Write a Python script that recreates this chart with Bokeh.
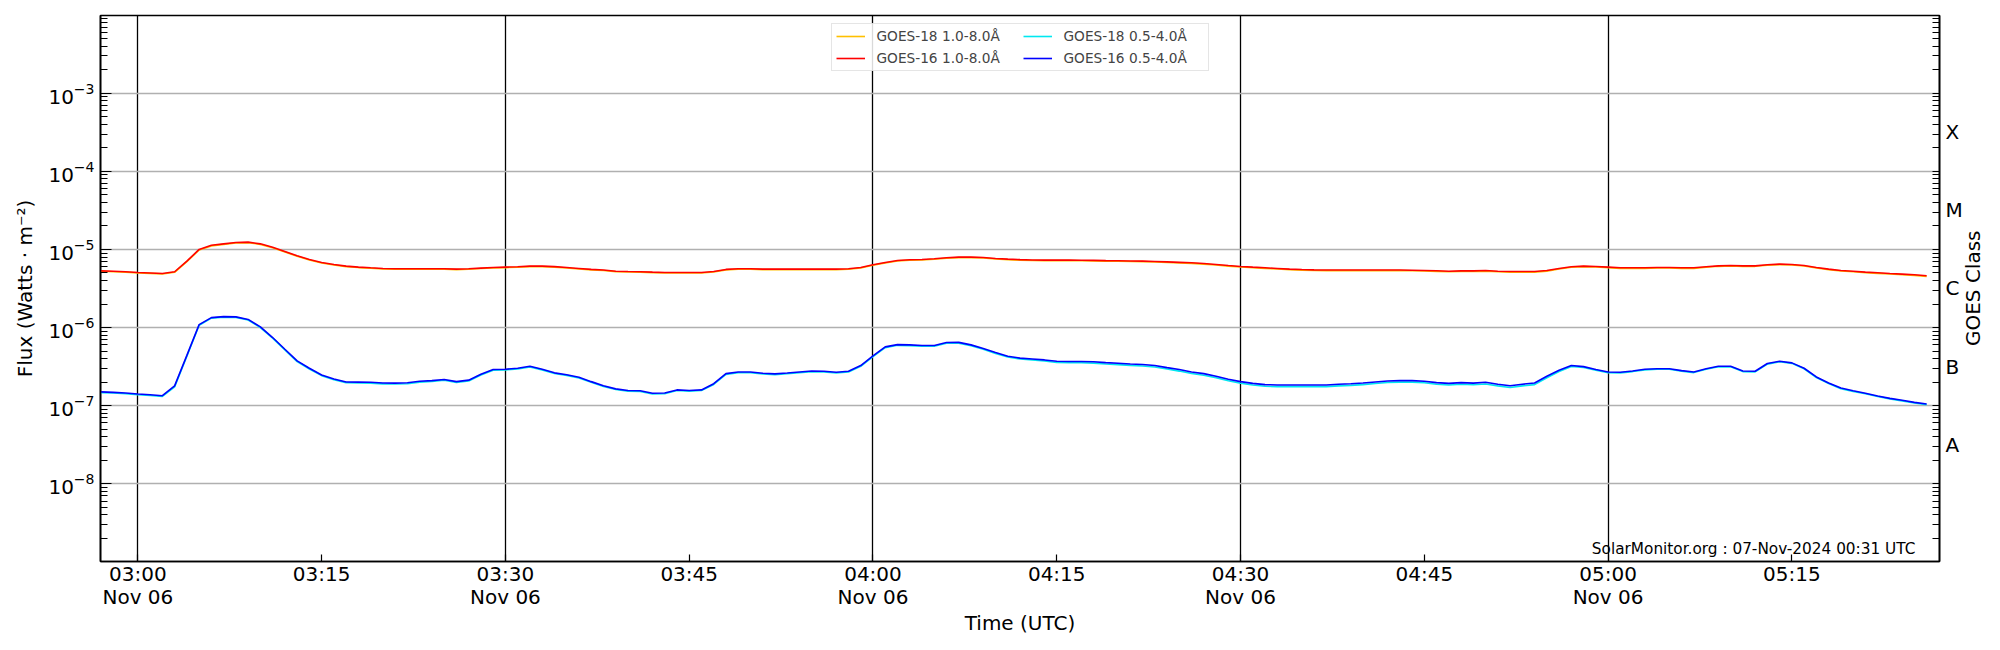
import math
import numpy as np
import pandas as pd
from bokeh.plotting import figure
from bokeh.models import (Range1d, FixedTicker, LogAxis, LinearAxis, CustomJSTickFormatter,
                          Legend, LegendItem, Label)
from bokeh.embed import file_html
from bokeh.resources import INLINE

FONT = "DejaVu Sans"

# ---------------- data ----------------
start_time = "2024-11-06 02:57"
n_points = 150  # one-minute cadence, 02:57 .. 05:26

# GOES-16 1.0-8.0 A, in units of 1e-6 W m^-2
goes16_long = [5.32, 5.26, 5.18, 5.07, 5.00, 4.92, 5.18, 7.08, 10.0, 11.3, 11.8, 12.3, 12.4,
               11.8, 10.7, 9.42, 8.29, 7.44, 6.81, 6.42, 6.11, 5.94, 5.82,
               5.71, 5.65, 5.65, 5.65, 5.65, 5.65, 5.60, 5.65, 5.77, 5.88,
               5.94, 6.00, 6.11, 6.11, 6.02, 5.88, 5.71, 5.55, 5.45, 5.27,
               5.22, 5.18, 5.12, 5.07, 5.07, 5.07, 5.07, 5.22, 5.55, 5.65,
               5.65, 5.60, 5.60, 5.60, 5.60, 5.60, 5.60, 5.60, 5.65, 5.88,
               6.36, 6.81, 7.23, 7.37, 7.44, 7.59, 7.82, 7.97, 7.97, 7.90,
               7.67, 7.52, 7.40, 7.33, 7.30, 7.30, 7.30, 7.28, 7.25, 7.20,
               7.16, 7.12, 7.09, 7.02, 6.93, 6.84, 6.75, 6.60, 6.42, 6.22,
               6.05, 5.93, 5.82, 5.71, 5.60, 5.53, 5.47, 5.45, 5.45, 5.45,
               5.45, 5.45, 5.45, 5.45, 5.42, 5.38, 5.33, 5.27, 5.32, 5.32,
               5.37, 5.27, 5.22, 5.22, 5.22, 5.37, 5.71, 6.00, 6.11, 6.05,
               5.94, 5.82, 5.82, 5.82, 5.88, 5.88, 5.82, 5.82, 6.00, 6.17,
               6.23, 6.17, 6.17, 6.36, 6.49, 6.42, 6.23, 5.88, 5.60, 5.37,
               5.27, 5.12, 5.02, 4.92, 4.83, 4.74, 4.60]

# GOES-18 1.0-8.0 A, in units of 1e-6 W m^-2
goes18_long = [5.25, 5.19, 5.11, 5.01, 4.94, 4.86, 5.10, 6.98, 9.85, 11.1, 11.6, 12.1, 12.2,
               11.6, 10.5, 9.28, 8.17, 7.33, 6.71, 6.33, 6.02, 5.86, 5.74,
               5.63, 5.57, 5.57, 5.57, 5.57, 5.57, 5.52, 5.57, 5.69, 5.80,
               5.86, 5.92, 6.03, 6.03, 5.94, 5.80, 5.63, 5.47, 5.37, 5.20,
               5.15, 5.11, 5.05, 5.00, 5.00, 5.00, 5.00, 5.15, 5.47, 5.57,
               5.57, 5.52, 5.52, 5.52, 5.52, 5.52, 5.52, 5.52, 5.57, 5.80,
               6.27, 6.71, 7.13, 7.27, 7.33, 7.48, 7.71, 7.86, 7.86, 7.79,
               7.56, 7.41, 7.29, 7.22, 7.19, 7.19, 7.19, 7.17, 7.14, 7.09,
               7.05, 7.01, 6.98, 6.91, 6.82, 6.73, 6.64, 6.49, 6.32, 6.12,
               5.95, 5.84, 5.73, 5.62, 5.51, 5.44, 5.38, 5.36, 5.36, 5.36,
               5.36, 5.36, 5.36, 5.36, 5.33, 5.29, 5.24, 5.18, 5.23, 5.23,
               5.28, 5.18, 5.13, 5.13, 5.13, 5.28, 5.62, 5.91, 6.02, 5.96,
               5.85, 5.73, 5.73, 5.73, 5.79, 5.79, 5.73, 5.73, 5.91, 6.08,
               6.14, 6.08, 6.08, 6.27, 6.40, 6.33, 6.14, 5.80, 5.52, 5.29,
               5.19, 5.04, 4.94, 4.84, 4.75, 4.66, 4.52]

# GOES-16 0.5-4.0 A, in units of 1e-7 W m^-2
goes16_short = [1.50, 1.48, 1.45, 1.41, 1.38, 1.34, 1.79, 4.40, 10.9, 13.4, 13.8, 13.7, 12.7,
                10.2, 7.45, 5.27, 3.74, 3.01, 2.47, 2.20, 2.01, 2.00, 1.99,
                1.95, 1.94, 1.96, 2.05, 2.09, 2.16, 2.03, 2.12, 2.52, 2.90,
                2.93, 3.01, 3.19, 2.93, 2.63, 2.49, 2.31, 2.03, 1.80, 1.64,
                1.56, 1.55, 1.44, 1.45, 1.59, 1.56, 1.59, 1.91, 2.57, 2.70,
                2.70, 2.60, 2.55, 2.62, 2.70, 2.78, 2.76, 2.68, 2.76, 3.26,
                4.33, 5.65, 6.05, 6.00, 5.88, 5.88, 6.43, 6.46, 6.00, 5.38,
                4.78, 4.29, 4.06, 3.96, 3.85, 3.70, 3.68, 3.68, 3.64, 3.56,
                3.49, 3.42, 3.36, 3.27, 3.07, 2.90, 2.70, 2.57, 2.38, 2.18,
                2.03, 1.93, 1.86, 1.84, 1.84, 1.84, 1.84, 1.84, 1.88, 1.91,
                1.95, 2.01, 2.07, 2.09, 2.09, 2.05, 1.97, 1.93, 1.97, 1.94,
                1.99, 1.88, 1.80, 1.88, 1.95, 2.38, 2.84, 3.26, 3.16, 2.90,
                2.70, 2.68, 2.78, 2.92, 2.97, 2.97, 2.81, 2.70, 2.97, 3.19,
                3.19, 2.78, 2.76, 3.46, 3.70, 3.53, 3.01, 2.33, 1.95, 1.68,
                1.55, 1.44, 1.33, 1.24, 1.17, 1.10, 1.05]

# GOES-18 0.5-4.0 A, in units of 1e-7 W m^-2
goes18_short = [1.47, 1.45, 1.42, 1.38, 1.35, 1.31, 1.74, 4.30, 10.7, 13.2, 13.6, 13.5, 12.5,
                10.0, 7.32, 5.17, 3.67, 2.95, 2.42, 2.15, 1.97, 1.95, 1.94,
                1.90, 1.89, 1.91, 2.00, 2.04, 2.11, 1.98, 2.07, 2.47, 2.84,
                2.87, 2.95, 3.13, 2.87, 2.58, 2.44, 2.26, 1.99, 1.76, 1.61,
                1.53, 1.52, 1.41, 1.42, 1.56, 1.53, 1.56, 1.87, 2.51, 2.64,
                2.64, 2.54, 2.49, 2.56, 2.64, 2.72, 2.70, 2.62, 2.70, 3.19,
                4.24, 5.53, 5.92, 5.87, 5.75, 5.75, 6.29, 6.32, 5.87, 5.26,
                4.67, 4.19, 3.96, 3.85, 3.73, 3.57, 3.54, 3.54, 3.50, 3.42,
                3.35, 3.28, 3.22, 3.13, 2.94, 2.77, 2.58, 2.45, 2.27, 2.08,
                1.94, 1.84, 1.77, 1.75, 1.75, 1.75, 1.75, 1.75, 1.79, 1.82,
                1.86, 1.92, 1.98, 2.00, 2.00, 1.96, 1.88, 1.84, 1.88, 1.85,
                1.89, 1.79, 1.71, 1.79, 1.86, 2.28, 2.74, 3.17, 3.08, 2.84,
                2.65, 2.63, 2.73, 2.87, 2.92, 2.92, 2.76, 2.65, 2.92, 3.14,
                3.14, 2.73, 2.71, 3.40, 3.64, 3.48, 2.96, 2.29, 1.92, 1.65,
                1.52, 1.42, 1.31, 1.22, 1.15, 1.08, 1.03]

series_labels = ["GOES-18 1.0-8.0Å", "GOES-16 1.0-8.0Å",
                 "GOES-18 0.5-4.0Å", "GOES-16 0.5-4.0Å"]
series_colors = ["#ffc000", "#ff0000", "#00e8f0", "#0000ff"]

tick_times = ["03:00", "03:15", "03:30", "03:45", "04:00", "04:15",
              "04:30", "04:45", "05:00", "05:15"]
grid_times = ["03:00", "03:30", "04:00", "04:30", "05:00"]
date_label = "Nov 06"
day = "2024-11-06"

decades = [1e-8, 1e-7, 1e-6, 1e-5, 1e-4, 1e-3]
class_labels = ["A", "B", "C", "M", "X"]
class_pos = [10 ** -7.5, 10 ** -6.5, 10 ** -5.5, 10 ** -4.5, 10 ** -3.5]
class_title = "GOES Class"

footer_text = "SolarMonitor.org : 07-Nov-2024 00:31 UTC"

# ---------------- derived ----------------
times = pd.date_range(start_time, periods=n_points, freq="1min")
def ms(t):
    return pd.Timestamp(f"{day} {t}").value / 1e6

minor = [k * 10.0 ** e for e in range(-9, -2) for k in range(1, 10)]

p = figure(width=2000, height=650, x_axis_type="datetime", y_axis_type="log",
           x_range=Range1d(pd.Timestamp(f"{day} 02:56:57"), pd.Timestamp(f"{day} 05:27:03")),
           y_range=Range1d(1.01e-9, 0.99e-2),
           output_backend="svg", toolbar_location=None,
           min_border_left=100, min_border_right=59, min_border_top=15, min_border_bottom=89,
           background_fill_color="white", border_fill_color="white")

p.outline_line_color = "black"
p.outline_line_width = 1.6

ys = [np.array(goes18_long) * 1e-6, np.array(goes16_long) * 1e-6,
      np.array(goes18_short) * 1e-7, np.array(goes16_short) * 1e-7]
renderers = []
for y, c in zip(ys, series_colors):
    r = p.line(times, y, line_color=c, line_width=1.6)
    renderers.append(r)

# x axis: times
xa = p.xaxis[0]
xa.ticker = FixedTicker(ticks=[ms(t) for t in tick_times], minor_ticks=[])
xa.formatter = CustomJSTickFormatter(code="""
const d = new Date(tick);
const h = String(d.getUTCHours()).padStart(2, "0");
const m = String(d.getUTCMinutes()).padStart(2, "0");
return h + ":" + m;
""")
xa.major_tick_in = 7
xa.major_tick_out = 0
xa.minor_tick_in = 0
xa.minor_tick_out = 0
xa.major_label_standoff = 0

# second x axis: date under the half-hour ticks
xd = LinearAxis(ticker=FixedTicker(ticks=[ms(t) for t in grid_times], minor_ticks=[]),
                formatter=CustomJSTickFormatter(args=dict(date_label=date_label),
                                                code="return date_label;"))
xd.axis_label = "Time (UTC)"
xd.axis_line_color = None
xd.major_tick_line_color = None
xd.minor_tick_line_color = None
xd.major_tick_in = 0
xd.major_tick_out = 0
xd.major_label_standoff = -4
xd.axis_label_standoff = -1
p.add_layout(xd, "below")

# left y axis
ya = p.yaxis[0]
ya.ticker = FixedTicker(ticks=decades, minor_ticks=minor)
ya.axis_label = "Flux (Watts · m⁻²)"
ya.major_tick_in = 11
ya.major_tick_out = 0
ya.minor_tick_in = 7
ya.minor_tick_out = 0
ya.major_label_standoff = 6
ya.axis_label_standoff = 8

# right axis with GOES classes
ra = LogAxis(ticker=FixedTicker(ticks=class_pos, minor_ticks=minor),
             formatter=CustomJSTickFormatter(args=dict(labels=class_labels, pos=class_pos), code="""
let best = 0, bd = 1e9;
for (let i = 0; i < pos.length; i++) {
  const dd = Math.abs(Math.log10(pos[i]) - Math.log10(tick));
  if (dd < bd) { bd = dd; best = i; }
}
return labels[best];
"""))
ra.major_tick_in = 0
ra.major_tick_out = 0
ra.minor_tick_in = 7
ra.minor_tick_out = 0
ra.major_label_standoff = 6
p.add_layout(ra, "right")

# outer right axis carrying the upward-reading title (text starts at the tick)
rt = LogAxis(ticker=FixedTicker(ticks=[5.8e-7], minor_ticks=[]),
             formatter=CustomJSTickFormatter(args=dict(title=class_title), code="return title;"))
rt.axis_line_color = None
rt.major_tick_in = 0
rt.major_tick_out = 0
rt.minor_tick_line_color = None
rt.major_label_standoff = 8
rt.major_label_orientation = math.pi / 2
p.add_layout(rt, "right")

for ax in [xa, xd, ya, ra, rt]:
    if ax not in (xd, rt):
        ax.axis_line_color = "black"
        ax.axis_line_width = 1.6
        ax.minor_tick_line_color = "black"
        ax.minor_tick_line_width = 1.2
    ax.major_tick_line_color = None if ax in (ra, xd, rt) else "black"
    ax.major_tick_line_width = 1.2
    ax.major_label_text_font = FONT
    ax.major_label_text_font_size = "20px"
    ax.major_label_text_color = "black"
    ax.axis_label_text_font = FONT
    ax.axis_label_text_font_size = "20px"
    ax.axis_label_text_font_style = "normal"
    ax.axis_label_text_color = "black"

# grids
p.xgrid.ticker = FixedTicker(ticks=[ms(t) for t in grid_times])
p.xgrid.grid_line_color = "black"
p.xgrid.grid_line_width = 1.3
p.ygrid.ticker = FixedTicker(ticks=decades)
p.ygrid.grid_line_color = "#b0b0b0"
p.ygrid.grid_line_width = 1.3

# legend
legend = Legend(items=[LegendItem(label=l, renderers=[r]) for l, r in zip(series_labels, renderers)],
                ncols=2, location="top_center", margin=8, padding=4, spacing=6,
                glyph_width=29, glyph_height=12, label_height=12, label_width=140,
                label_standoff=12, label_text_font=FONT, label_text_font_size="13.7px",
                border_line_color="#cccccc", border_line_width=1,
                background_fill_color="white", background_fill_alpha=0.85)
p.add_layout(legend)

# footer
p.add_layout(Label(x=pd.Timestamp(f"{day} 05:25:05"), y=1.44e-9, text=footer_text,
                   text_align="right", text_baseline="alphabetic",
                   text_font=FONT, text_font_size="15.3px", text_color="black"))

open("out.html", "w").write(file_html(p, INLINE))
